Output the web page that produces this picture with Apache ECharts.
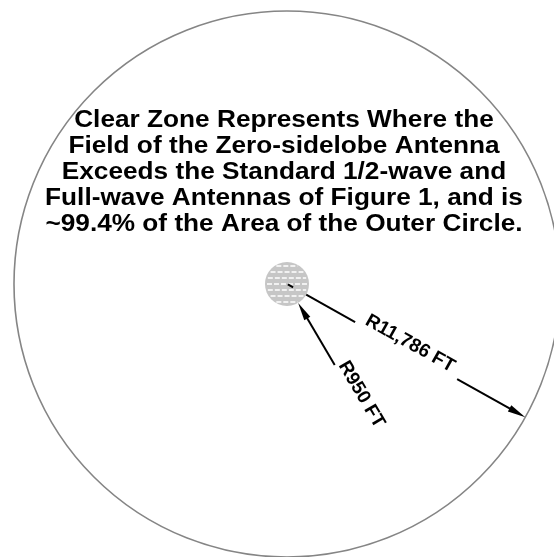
<!DOCTYPE html>
<html>
<head>
<meta charset="utf-8">
<script src="https://cdn.jsdelivr.net/npm/echarts@6/dist/echarts.min.js"></script>
<style>
html, body { margin: 0; padding: 0; background: #fff; }
#chart { width: 554px; height: 557px; }
</style>
</head>
<body>
<div id="chart"></div>
<script>
// zones, radius in feet
const zoneNames = ['Outer Circle', 'Zero-sidelobe zone'];
const zoneRadiusFt = [11786, 950];

// dimension callouts (radius in feet, leader direction in degrees)
const dimLabels = ['R11,786 FT', 'R950 FT'];
const dimRadiusFt = [11786, 950];
const dimAngleDeg = [-29.2, -59.5];

// note text
const noteLines = [
  'Clear Zone Represents Where the',
  'Field of the Zero-sidelobe Antenna',
  'Exceeds the Standard 1/2-wave and',
  'Full-wave Antennas of Figure 1, and is',
  '~99.4% of the Area of the Outer Circle.'
];

const chart = echarts.init(document.getElementById('chart'));

// outer circle plain, inner circle gray with white dashed hatch
const renderZone = (params, api) => {
  const c = api.coord([api.value(0), api.value(1)]);
  const r = api.size([api.value(2), 0])[0];
  if (params.dataIndex === 0) {
    return {
      type: 'circle',
      shape: { cx: c[0], cy: c[1], r: r },
      style: { fill: 'none', stroke: '#858585', lineWidth: 1.6 }
    };
  }
  const children = [{
    type: 'circle',
    shape: { cx: c[0], cy: c[1], r: r },
    style: { fill: '#c6c6c6' }
  }];
  for (let dy = -r + 4; dy < r - 2; dy += 6) {
    const half = Math.sqrt(r * r - dy * dy) - 2;
    if (half < 3) continue;
    children.push({
      type: 'line',
      shape: { x1: c[0] - half, y1: c[1] + dy, x2: c[0] + half, y2: c[1] + dy },
      style: { stroke: '#fff', lineWidth: 1.4, lineDash: [5, 2] }
    });
  }
  return { type: 'group', children: children };
}

const arrowHead = (tip, dir, n, len, w) => ({
  type: 'polygon',
  shape: {
    points: [
      tip,
      [tip[0] - dir[0] * len + n[0] * w / 2, tip[1] - dir[1] * len + n[1] * w / 2],
      [tip[0] - dir[0] * len - n[0] * w / 2, tip[1] - dir[1] * len - n[1] * w / 2]
    ]
  },
  style: { fill: '#000' }
})

const seg = (c, u, a, b) => ({
  type: 'line',
  shape: { x1: c[0] + u[0] * a, y1: c[1] + u[1] * a, x2: c[0] + u[0] * b, y2: c[1] + u[1] * b },
  style: { stroke: '#000', lineWidth: 2 }
})

const renderDim = (params, api) => {
  const rFt = api.value(0);
  const ang = api.value(1) * Math.PI / 180;
  const c = api.coord([0, 0]);
  const tip = api.coord([rFt * Math.cos(ang), rFt * Math.sin(ang)]);
  const dx = tip[0] - c[0], dy = tip[1] - c[1];
  const L = Math.sqrt(dx * dx + dy * dy);
  const u = [dx / L, dy / L];
  const n = [u[1], -u[0]];
  const rot = -Math.atan2(u[1], u[0]);
  const innerPx = api.size([dimRadiusFt[1], 0])[0];
  const label = dimLabels[params.dataIndex];
  const font = 'bold 19px "Liberation Sans", Arial, sans-serif';
  const children = [];
  let textDist;
  if (params.dataIndex === 0) {
    // leader from small circle out to the big one, text in the gap
    children.push(seg(c, u, innerPx, L * 0.286));
    children.push(seg(c, u, L * 0.714, L - 14));
    children.push(arrowHead(tip, u, n, 18, 7));
    children.push(seg(c, u, 1, 7));
    textDist = L * 0.5;
  } else {
    // leader pointing in to the small circle, text past its end
    const back = [-u[0], -u[1]];
    children.push(seg(c, u, L + 14, L + 72));
    children.push(arrowHead(tip, back, n, 18, 7));
    textDist = L + 111;
  }
  children.push({
    type: 'text',
    x: c[0] + u[0] * textDist + n[0] * 8,
    y: c[1] + u[1] * textDist + n[1] * 8,
    rotation: rot,
    style: { text: label, font: font, fill: '#000', align: 'center', verticalAlign: 'middle' }
  });
  return { type: 'group', children: children };
}

const option = {
  backgroundColor: '#fff',
  animation: false,
  grid: { left: 0, right: 0, top: 0, bottom: 0 },
  xAxis: { type: 'value', min: -12390, max: 11527, show: false },
  yAxis: { type: 'value', min: -11786, max: 12261, show: false },
  graphic: [{
    type: 'text',
    x: 284,
    y: 108,
    scaleX: 1.14,
    z: 10,
    style: {
      text: noteLines.join('\n'),
      font: 'bold 23px "Liberation Sans", Arial, sans-serif',
      fill: '#000',
      align: 'center',
      verticalAlign: 'top',
      lineHeight: 26
    }
  }],
  series: [
    {
      name: 'Zones',
      type: 'custom',
      renderItem: renderZone,
      silent: true,
      data: zoneRadiusFt.map((r, i) => ({ name: zoneNames[i], value: [0, 0, r] }))
    },
    {
      name: 'Dimensions',
      type: 'custom',
      renderItem: renderDim,
      silent: true,
      data: dimRadiusFt.map((r, i) => ({ name: dimLabels[i], value: [r, dimAngleDeg[i]] }))
    }
  ]
}

chart.setOption(option);
</script>
</body>
</html>
